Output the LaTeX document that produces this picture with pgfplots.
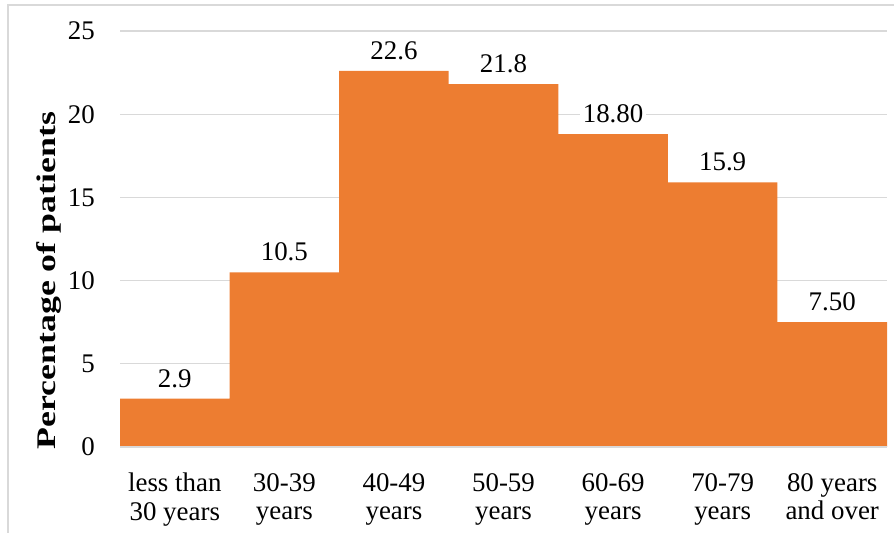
\documentclass[border=0pt]{standalone}
\usepackage{fontspec}
\setmainfont{Liberation Serif}
\usepackage{pgfplots}
\pgfplotsset{compat=1.18}
\definecolor{barorange}{HTML}{ED7D31}
\definecolor{gridgray}{HTML}{D9D9D9}
\begin{document}
\begin{tikzpicture}[x=1bp,y=1bp]
\path[use as bounding box] (0,0) rectangle (894,533);
\draw[gridgray, line width=1.5bp] (8,-5) -- (8,528) -- (900,528);
\begin{axis}[
  at={(120bp,86bp)}, anchor=south west,
  scale only axis, width=767bp, height=416bp,
  ymin=0, ymax=25, ytick={0,5,...,25},
  xmin=-0.5, xmax=6.5,
  xtick={0,...,6},
  xticklabels={{less than\\30 years},{30-39\\years},{40-49\\years},{50-59\\years},{60-69\\years},{70-79\\years},{80 years\\and over}},
  /pgf/number format/assume math mode=true,
  axis line style={draw=none},
  axis x line*=bottom,
  axis y line*=left,
  major tick length=0pt,
  ymajorgrids, grid style={gridgray, line width=1.2bp},
  yticklabel style={font=\fontsize{27}{30}\selectfont, anchor=east, inner sep=0pt, xshift=-25bp},
  xticklabel style={align=center, font=\fontsize{27}{29}\selectfont, anchor=north, inner sep=0pt, yshift=-26bp},
  ylabel={\textbf{Percentage of patients}},
  ylabel style={font=\fontsize{27}{30}\selectfont, at={(axis description cs:-0.093,0.40)}, anchor=center, xscale=1.33},
  ybar, bar width=1,
  nodes near coords,
  point meta=explicit symbolic,
  every node near coord/.append style={font=\fontsize{27}{30}\selectfont, fill=white, inner sep=3bp, yshift=8bp},
  clip=false,
]
\addplot[fill=barorange, draw=none] table[meta=lab] {
x y lab
0 2.9 2.9
1 10.5 10.5
2 22.6 22.6
3 21.8 21.8
4 18.8 18.80
5 15.9 15.9
6 7.5 7.50
};
\draw[gridgray, line width=1.5bp] (axis cs:-0.5,0) -- (axis cs:6.5,0);
\end{axis}
\end{tikzpicture}
\end{document}
